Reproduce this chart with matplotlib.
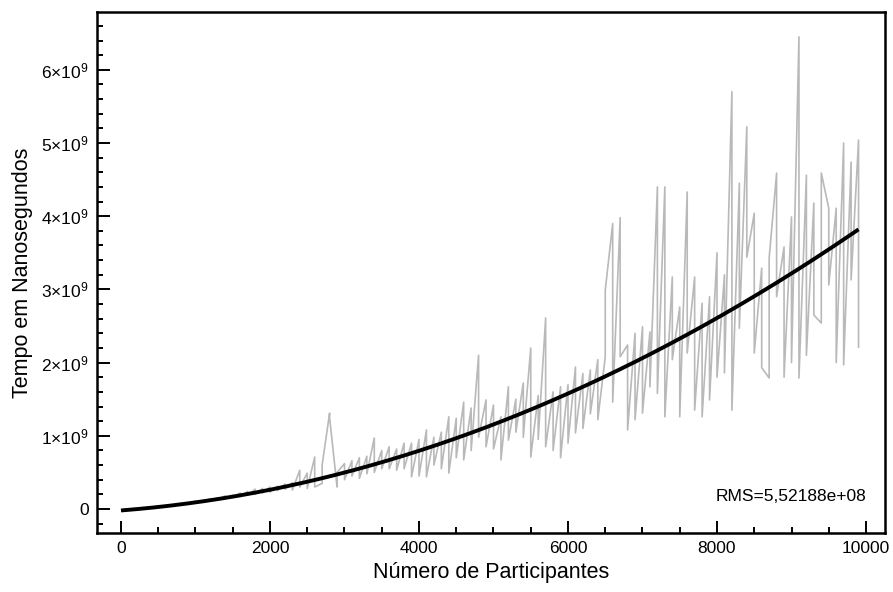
import numpy as np
import matplotlib
matplotlib.use("Agg")
import matplotlib.pyplot as plt
from matplotlib.ticker import MultipleLocator, FuncFormatter

plt.rcParams['font.family'] = ['Liberation Sans', 'DejaVu Sans']
plt.rcParams['mathtext.fontset'] = 'custom'
plt.rcParams['mathtext.rm'] = 'Liberation Sans'
plt.rcParams['mathtext.it'] = 'Liberation Sans'

# Number of participants (two measurements per size, plotted in order)
participants = [100 * k for k in range(1, 100)]

# measurements in units of 1e9 ns (first and second run at each size)
run_a = [0.00, 0.01, 0.02, 0.02, 0.04, 0.04, 0.06, 0.08, 0.09, 0.11,
         0.12, 0.14, 0.15, 0.18, 0.19, 0.22, 0.24, 0.27, 0.28, 0.30,
         0.31, 0.34, 0.36, 0.53, 0.49, 0.71, 0.35, 1.31, 0.30, 0.62,
         0.66, 0.70, 0.72, 0.97, 0.80, 0.85, 0.82, 0.90, 0.90, 0.95,
         1.08, 0.98, 1.05, 1.26, 1.24, 1.46, 1.38, 2.10, 1.49, 1.42,
         1.26, 1.67, 1.50, 1.72, 2.20, 1.55, 2.61, 1.60, 1.67, 1.70,
         1.94, 1.85, 1.90, 2.04, 2.08, 3.90, 3.98, 2.24, 2.40, 2.49,
         2.42, 4.40, 4.40, 3.17, 2.76, 4.33, 3.17, 2.81, 2.90, 3.50,
         3.20, 5.70, 4.45, 5.22, 4.04, 3.29, 1.79, 4.59, 3.58, 3.99,
         6.45, 4.56, 4.18, 2.54, 4.11, 4.11, 5.00, 4.74, 5.04]
run_b = [-0.01, -0.01, 0.01, 0.01, 0.03, 0.03, 0.05, 0.06, 0.07, 0.09,
         0.10, 0.11, 0.13, 0.14, 0.16, 0.17, 0.19, 0.20, 0.22, 0.23,
         0.25, 0.27, 0.26, 0.30, 0.28, 0.30, 0.60, 1.25, 0.50, 0.40,
         0.45, 0.42, 0.48, 0.50, 0.55, 0.55, 0.53, 0.55, 0.44, 0.45,
         0.44, 0.60, 0.55, 0.49, 0.70, 0.67, 0.80, 0.98, 0.85, 0.82,
         0.67, 0.94, 1.05, 0.98, 0.71, 0.95, 0.85, 0.80, 0.70, 0.90,
         1.04, 1.10, 1.30, 1.22, 2.99, 1.46, 2.08, 1.08, 1.22, 1.31,
         1.67, 1.58, 1.26, 2.04, 1.26, 2.13, 1.35, 1.26, 1.49, 1.80,
         1.86, 1.35, 2.47, 3.44, 2.13, 1.93, 3.43, 2.90, 1.80, 2.00,
         1.79, 2.10, 2.65, 4.59, 3.06, 2.00, 1.97, 3.13, 2.21]

# quadratic fit coefficients (a*n^2 + b*n + c), ns
fit_coeffs = [31.2, 7.9e4, -2.0e7]
fit_range = [0, 9900]
rms_text = "RMS=5,52188e+08"

xs, ys = [], []
for n, a, b in zip(participants, run_a, run_b):
    xs += [n, n]
    ys += [a * 1e9, b * 1e9]

fig = plt.figure(figsize=(8.93, 5.92), dpi=100)
ax = fig.add_axes([97/893, 1-533/592, (885-97)/893, (533-12)/592])

ax.plot(xs, ys, color='#b9b9b9', lw=1.2, zorder=2)
xf = np.linspace(fit_range[0], fit_range[1], 400)
ax.plot(xf, np.polyval(fit_coeffs, xf), color='black', lw=2.8, zorder=3,
        solid_capstyle='butt')

ax.set_xlim(-322, 10255)
ax.set_ylim(-0.328e9, 6.79e9)

ax.xaxis.set_major_locator(MultipleLocator(2000))
ax.xaxis.set_minor_locator(MultipleLocator(500))
ax.yaxis.set_major_locator(MultipleLocator(1e9))
ax.yaxis.set_minor_locator(MultipleLocator(0.2e9))

def yfmt(v, pos):
    k = int(round(v / 1e9))
    if k == 0:
        return "0"
    return r"$\mathregular{%d{\times}10^{9}}$" % k
ax.yaxis.set_major_formatter(FuncFormatter(yfmt))
ax.xaxis.set_major_formatter(FuncFormatter(lambda v, p: "%d" % v))

for s in ax.spines.values():
    s.set_linewidth(1.8)
ax.tick_params(which='both', direction='in', top=False, right=False, width=1.4)
ax.tick_params(which='major', length=9, labelsize=12.5, pad=6)
ax.tick_params(which='minor', length=4.5)

ax.set_xlabel("Número de Participantes", fontsize=15.5, labelpad=4)
ax.set_ylabel("Tempo em Nanosegundos", fontsize=15.5, labelpad=6)

ax.text(0.976, 0.071, rms_text, transform=ax.transAxes, ha='right', va='center',
        fontsize=12.5)

fig.savefig("out.png", dpi=100)
